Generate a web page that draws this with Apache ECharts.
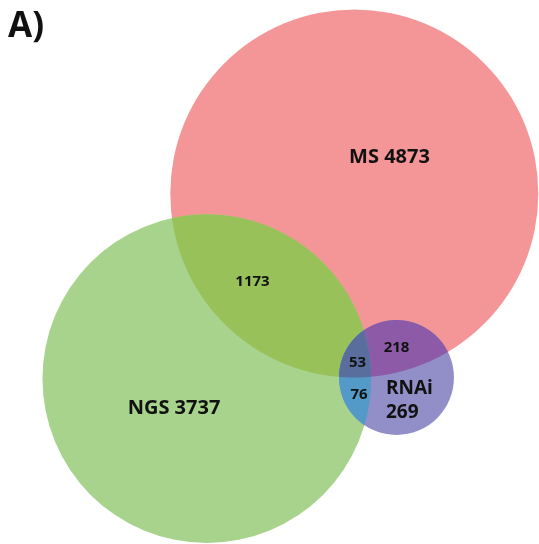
<!DOCTYPE html>
<html><head><meta charset="utf-8">
<script src="https://cdn.jsdelivr.net/npm/echarts@6/dist/echarts.min.js"></script>
<style>html,body{margin:0;padding:0;background:#fff}#c{width:539px;height:544px}</style>
</head><body><div id="c"></div>
<script>
// ---- data ----
const setNames = ['MS', 'NGS', 'RNAi'];
const uniqueCounts = [4873, 3737, 269];
const pairSets = [[0, 1], [0, 2], [1, 2]];
const pairCounts = [1173, 218, 76];
const tripleCount = 53;
const panelLabel = 'A)';

// ---- layout (venn placement, in canvas data units) ----
const centers = [[354.3, 193.5], [206.8, 378.7], [396.5, 377.5]];
const scaleK = 2.315; // radius = k * sqrt(set total) (area-proportional)
const regionSets = [[0], [1], [2], [0, 1], [0, 2], [1, 2], [0, 1, 2]];
const regionColors = ['#f49597', '#a7d38c', '#928fc8', '#98c159', '#8c5aa6', '#539ac8', '#5a6e9e'];
// label anchor per region (same order as regionSets)
const labelPos = [[389.5, 157], [174, 408.5], [386, 401], [252.5, 282], [396.5, 348], [359, 394.5], [357.5, 362.5]];

const totals = setNames.map((_, i) => {
  let t = uniqueCounts[i] + tripleCount;
  pairSets.forEach((p, j) => { if (p.includes(i)) t += pairCounts[j]; });
  return t;
});
const radii = totals.map(t => scaleK * Math.sqrt(t));

const regionCounts = [...uniqueCounts, ...pairCounts, tripleCount];
const regionTexts = regionSets.map((s, i) => {
  if (s.length === 1) return s[0] === 2 ? setNames[2] + '\n' + regionCounts[i] : setNames[s[0]] + ' ' + regionCounts[i];
  return String(regionCounts[i]);
});

function intersectionPolygon(circs) {
  const pts = [];
  const N = 2000;
  circs.forEach((c, ci) => {
    for (let k = 0; k < N; k++) {
      const a = 2 * Math.PI * k / N;
      const x = c.x + c.r * Math.cos(a), y = c.y + c.r * Math.sin(a);
      let inside = true;
      circs.forEach((o, oi) => { if (oi !== ci && Math.hypot(x - o.x, y - o.y) > o.r + 1e-6) inside = false; });
      if (inside) pts.push([x, y]);
    }
  });
  let cx = 0, cy = 0;
  pts.forEach(p => { cx += p[0]; cy += p[1]; });
  cx /= pts.length; cy /= pts.length;
  pts.sort((p, q) => Math.atan2(p[1] - cy, p[0] - cx) - Math.atan2(q[1] - cy, q[0] - cx));
  return pts;
}

const FONT = '"Open Sans", "Noto Sans", sans-serif';
const chart = echarts.init(document.getElementById('c'), null, { renderer: 'canvas' });
chart.setOption({
  animation: false,
  backgroundColor: '#ffffff',
  title: { text: panelLabel, left: 3, top: 5, textStyle: { fontSize: 35, fontWeight: 'bold', color: '#111', fontFamily: FONT } },
  grid: { left: 0, right: 0, top: 0, bottom: 0 },
  xAxis: { type: 'value', min: 0, max: 539, show: false },
  yAxis: { type: 'value', min: 0, max: 544, inverse: true, show: false },
  series: [
    {
      type: 'custom', clip: false, z: 1,
      data: regionSets.map((s, i) => [i, i]),
      renderItem(params, api) {
        const sets = regionSets[params.dataIndex];
        const circs = sets.map(i => {
          const p = api.coord(centers[i]);
          return { x: p[0], y: p[1], r: Math.abs(api.size([radii[i], 0])[0]) };
        });
        const fill = regionColors[params.dataIndex];
        if (sets.length === 1) {
          return { type: 'circle', shape: { cx: circs[0].x, cy: circs[0].y, r: circs[0].r }, style: { fill } };
        }
        return { type: 'polygon', shape: { points: intersectionPolygon(circs) }, style: { fill } };
      }
    },
    {
      type: 'custom', clip: false, z: 5,
      data: regionSets.map((s, i) => [i, i]),
      renderItem(params, api) {
        const i = params.dataIndex;
        const p = api.coord(labelPos[i]);
        const big = regionSets[i].length === 1;
        const isR = i === 2;
        return {
          type: 'text', x: p[0], y: p[1],
          style: {
            text: regionTexts[i],
            fill: '#111',
            font: 'bold ' + (big ? (isR ? 19 : 20) : 15) + 'px ' + FONT,
            textAlign: isR ? 'left' : 'center',
            textVerticalAlign: 'middle',
            lineHeight: 24
          }
        };
      }
    }
  ]
});
</script></body></html>
